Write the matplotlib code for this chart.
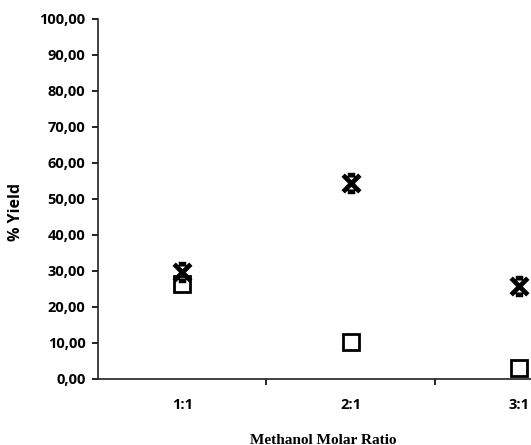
import matplotlib
matplotlib.use("Agg")
import matplotlib.pyplot as plt
from matplotlib.path import Path

categories = ["1:1", "2:1", "3:1"]
series_star = [29.7, 54.4, 25.8]
series_square = [26.4, 10.3, 3.1]
y_ticks = [0, 10, 20, 30, 40, 50, 60, 70, 80, 90, 100]
y_tick_labels = [("%.2f" % v).replace(".", ",") for v in y_ticks]

# X marker with short flat bars on top and bottom
star_path = Path(
    [(-1, -1), (1, 1), (-1, 1), (1, -1),
     (-0.45, 1), (0.45, 1), (-0.45, -1), (0.45, -1),
     (0, -0.35), (0, 0.35)],
    [Path.MOVETO, Path.LINETO, Path.MOVETO, Path.LINETO,
     Path.MOVETO, Path.LINETO, Path.MOVETO, Path.LINETO,
     Path.MOVETO, Path.LINETO])

fig = plt.figure(figsize=(5.31, 4.45), dpi=100)
ax = fig.add_axes([98/531, 1-379/445, 1-98/531, (379-19)/445])

xpos = [1, 2, 3]
ax.plot(xpos, series_square, linestyle="none", marker="s", markersize=11,
        markerfacecolor="white", markeredgecolor="black", markeredgewidth=2, clip_on=False, zorder=3)
ax.plot(xpos, series_star, linestyle="none", marker=star_path, markersize=12,
        markeredgecolor="black", markerfacecolor="none", markeredgewidth=3.4, clip_on=False, zorder=4)

ax.set_xlim(0.5, 3.0 + (531 - 519) / 169)
ax.set_ylim(0, 100)
for s in ["top", "right"]:
    ax.spines[s].set_visible(False)
for s in ["left", "bottom"]:
    ax.spines[s].set_linewidth(1.2)
    ax.spines[s].set_color("#222222")

ax.set_yticks(y_ticks)
ax.set_yticklabels(y_tick_labels, fontfamily="Open Sans", fontweight="bold", fontsize=10.5)
ax.tick_params(axis="y", direction="out", length=4, width=1.2, pad=5)

ax.set_xticks([1.5, 2.5])
ax.set_xticklabels(["", ""])
ax.tick_params(axis="x", which="major", direction="out", length=4, width=1.2)
ax.set_xticks(xpos, minor=True)
ax.set_xticklabels(categories, minor=True, fontfamily="Open Sans", fontweight="bold", fontsize=10.5)
ax.tick_params(axis="x", which="minor", length=0, pad=14)

fig.text(16/531, 1-212/445, "% Yield", rotation=90, ha="center", va="center",
         fontfamily="Open Sans", fontweight="bold", fontsize=11.5)
fig.text(323/531, 1-440/445, "Methanol Molar Ratio", ha="center", va="center",
         fontfamily="Liberation Serif", fontweight="bold", fontsize=11)

fig.savefig("out.png", dpi=100)
